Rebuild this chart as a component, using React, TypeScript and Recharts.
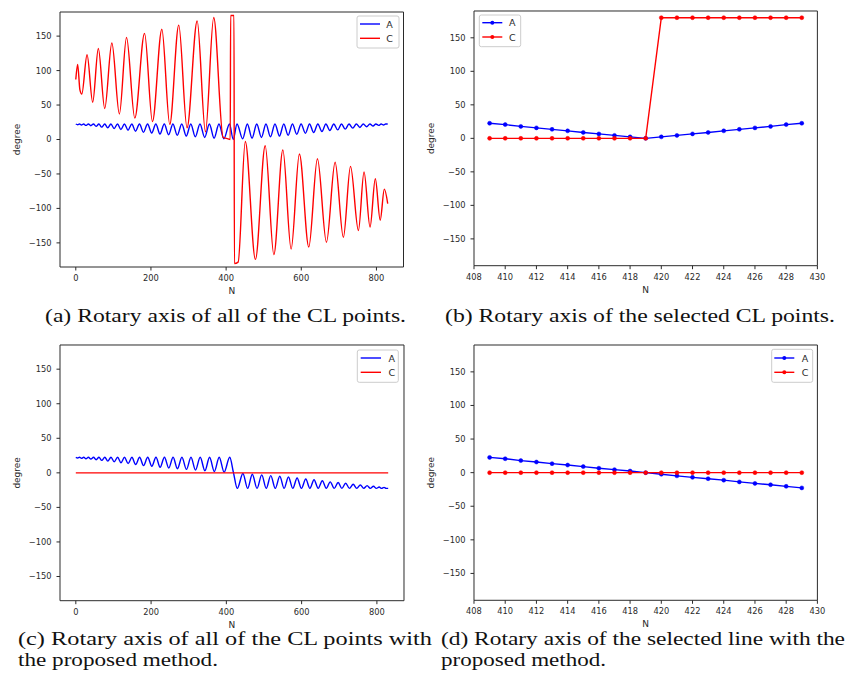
import { LineChart, Line, XAxis, YAxis, ReferenceArea } from 'recharts';

type Pt = [number, number];

// (a) rotary axes of all CL points (N, degree)
const allA: Pt[] = [
  [0, 22.5], [5, 21.5], [10, 22.5], [15, 21], [21, 22.5], [27, 20.5], [33.5, 22.5], [40, 20],
  [47, 22.5], [54, 19], [61.5, 22.5], [69, 18], [77, 22.5], [85, 17], [93.5, 22.5], [102, 16],
  [111, 22.5], [120, 14.5], [129.5, 22.5], [139, 13.5], [149, 22.5], [159, 12], [169.5, 22.5],
  [180, 10.5], [191, 22.5], [202, 9.5], [213, 22.5], [224, 8], [235.5, 22.5], [247, 7],
  [258.5, 22.5], [270, 6], [282, 22.5], [294, 5], [306, 22.5], [318, 4], [330.5, 22.5], [343, 3],
  [355.5, 22.5], [368, 2], [381, 22.5], [394, 1], [409, 22.5], [419, 0], [429, 22.5], [444, 1],
  [456.5, 22.5], [469, 2], [481.5, 22.5], [494, 3], [506, 22.5], [518, 4], [530, 22.5], [542, 5],
  [553.5, 22.5], [565, 6], [576.5, 22.5], [588, 7.5], [599.5, 22.5], [611, 9], [622, 22.5],
  [633, 10], [644, 22.5], [655, 11.5], [665.5, 22.5], [676, 13], [686.5, 22.5], [697, 14],
  [707, 22.5], [717, 15], [727, 22.5], [737, 16.5], [746.5, 22.5], [756, 17.5], [765, 22.5],
  [774, 18.5], [782.5, 22.5], [791, 19.5], [798.5, 22.5], [806, 20.5], [812.5, 22.5], [819, 21],
  [824.5, 22.5], [830, 22.5],
];

const allC: Pt[] = [
  [0, 87], [5, 109], [11, 72], [16, 66], [30, 123], [45, 54], [60, 132], [77, 45], [96, 140],
  [116, 37], [135, 148], [157, 31], [183, 154], [204, 26], [229, 160], [250, 22], [274, 166],
  [296, 17], [323, 172], [345, 11], [367, 177], [392, 3], [405, 1], [411, 0], [412, 180],
  [421, 180], [422, -180], [432, -178], [451, -3], [478, -174], [504, -9], [527, -167],
  [551, -15], [573, -159], [595, -21], [620, -156], [643, -28], [667, -149], [690, -33],
  [712, -142], [731, -39], [752, -132], [767, -47], [783, -127], [797, -57], [810, -117],
  [821, -72], [830, -93],
];

// (c) all CL points with the proposed method
const propA: Pt[] = [
  [0, 22.5], [5, 21.5], [10, 22.5], [15, 21], [21, 22.5], [27, 20.5], [33.5, 22.5], [40, 20],
  [47, 22.5], [54, 19], [61.5, 22.5], [69, 18], [77, 22.5], [85, 17], [93.5, 22.5], [102, 16],
  [111, 22.5], [120, 14.5], [129.5, 22.5], [139, 13.5], [149, 22.5], [159, 12], [169.5, 22.5],
  [180, 10.5], [191, 22.5], [202, 9.5], [213, 22.5], [224, 8], [235.5, 22.5], [247, 7],
  [258.5, 22.5], [270, 6], [282, 22.5], [294, 5], [306, 22.5], [318, 4], [330.5, 22.5], [343, 3],
  [355.5, 22.5], [368, 2], [381, 22.5], [394, 1], [409, 22.5], [419, 0], [429, -22.5], [444, -1],
  [456.5, -22.5], [469, -2], [481.5, -22.5], [494, -3], [506, -22.5], [518, -4], [530, -22.5],
  [542, -5], [553.5, -22.5], [565, -6], [576.5, -22.5], [588, -7.5], [599.5, -22.5], [611, -9],
  [622, -22.5], [633, -10], [644, -22.5], [655, -11.5], [665.5, -22.5], [676, -13],
  [686.5, -22.5], [697, -14], [707, -22.5], [717, -15], [727, -22.5], [737, -16.5],
  [746.5, -22.5], [756, -17.5], [765, -22.5], [774, -18.5], [782.5, -22.5], [791, -19.5],
  [798.5, -22.5], [806, -20.5], [812.5, -22.5], [819, -21], [824.5, -22.5], [830, -22.5],
];
const propC: Pt[] = [[0, 0], [830, 0]];

// (b), (d) selected CL points
const selN = [409, 410, 411, 412, 413, 414, 415, 416, 417, 418, 419, 420, 421, 422, 423, 424, 425, 426, 427, 428, 429];
const selA = [22.5, 20.5, 17.8, 15.6, 13.4, 11.2, 8.8, 6.6, 4.4, 2.2, 0, 2.2, 4.4, 6.6, 8.8, 11.2, 13.4, 15.6, 17.8, 20.5, 22.5];
const selC = [0, 0, 0, 0, 0, 0, 0, 0, 0, 0, 0, 180, 180, 180, 180, 180, 180, 180, 180, 180, 180];
const selPropA = [22.7, 20.7, 17.9, 15.8, 13.4, 11.3, 9, 6.6, 4.5, 2.4, 0, -2.4, -4.8, -7, -9, -11.2, -13.8, -16, -18, -20.4, -22.7];
const selPropC = [0, 0, 0, 0, 0, 0, 0, 0, 0, 0, 0, 0, 0, 0, 0, 0, 0, 0, 0, 0, 0];

const degTicks = [-150, -100, -50, 0, 50, 100, 150];
const allTicks = [0, 200, 400, 600, 800];
const selTicks = [408, 410, 412, 414, 416, 418, 420, 422, 424, 426, 428, 430];

const BLUE = '#0000ff';
const RED = '#ff0000';
const INK = '#2a2a2a';
const SANS = '"DejaVu Sans", sans-serif';
const SERIF = '"Liberation Serif", serif';

type Row = { n: number; deg: number };
const fromPairs = (p: Pt[]): Row[] => p.map(([n, deg]) => ({ n, deg }));
const fromCols = (ys: number[]): Row[] => ys.map((deg, i) => ({ n: selN[i], deg }));

const fmt = (v: number) => String(v).replace('-', '\u2212');

type Series = { name: string; color: string; rows: Row[] };

function Panel(props: {
  left: number;
  top: number;
  plotH: number;
  plotW: number;
  xDomain: [number, number];
  xTicks: number[];
  yDomain: [number, number];
  series: Series[];
  dots?: boolean;
}) {
  const { left, top, plotH, plotW, xDomain, xTicks, yDomain, series, dots } = props;
  const yLabel = (p: any) => {
    const vb = p.viewBox;
    const cx = vb.x + 17;
    const cy = vb.y + vb.height / 2;
    return (
      <text x={cx} y={cy} transform={`rotate(-90 ${cx} ${cy})`} textAnchor="middle" dominantBaseline="central" fontSize={9} fill={INK} fontFamily={SANS}>
        degree
      </text>
    );
  };
  const xLabel = (p: any) => {
    const vb = p.viewBox;
    return (
      <text x={vb.x + vb.width / 2} y={vb.y + 24} textAnchor="middle" dominantBaseline="central" fontSize={9} fill={INK} fontFamily={SANS}>
        N
      </text>
    );
  };
  const tick = { fontSize: 8.3, fill: INK, fontFamily: SANS };
  return (
    <div style={{ position: 'absolute', left, top }}>
      <LineChart width={60 + plotW + 21} height={10 + plotH + 30} margin={{ top: 10, right: 21, bottom: 0, left: 0 }}>
        <XAxis
          type="number"
          dataKey="n"
          domain={xDomain}
          ticks={xTicks}
          interval={0}
          allowDataOverflow
          height={30}
          axisLine={false}
          tickLine={{ stroke: INK }}
          tickSize={3.5}
          tickMargin={4.5}
          tick={tick}
          label={xLabel}
        />
        <YAxis
          type="number"
          domain={yDomain}
          ticks={degTicks}
          interval={0}
          allowDataOverflow
          width={60}
          axisLine={false}
          tickLine={{ stroke: INK }}
          tickSize={3.5}
          tickMargin={5}
          tick={tick}
          tickFormatter={fmt}
          label={yLabel}
        />
        <ReferenceArea x1={xDomain[0]} x2={xDomain[1]} y1={yDomain[0]} y2={yDomain[1]} fill="none" stroke={INK} strokeWidth={1} />
        {series.map((s) => (
          <Line
            key={s.name}
            data={s.rows}
            dataKey="deg"
            name={s.name}
            type={dots ? 'linear' : 'monotone'}
            stroke={s.color}
            strokeWidth={1.4}
            dot={dots ? { r: 2, fill: s.color, stroke: s.color, strokeWidth: 0.5 } : false}
            activeDot={false}
            isAnimationActive={false}
          />
        ))}
      </LineChart>
    </div>
  );
}

function LegendBox({ x, y, w, h, rows, lineX1, lineX2, textX, dots }: {
  x: number; y: number; w: number; h: number; rows: number[]; lineX1: number; lineX2: number; textX: number; dots?: boolean;
}) {
  const items = [
    { label: 'A', color: BLUE },
    { label: 'C', color: RED },
  ];
  return (
    <g>
      <rect x={x} y={y} width={w} height={h} rx={2} fill="#ffffff" fillOpacity={0.85} stroke="#cccccc" />
      {items.map((it, i) => (
        <g key={it.label}>
          <line x1={lineX1} x2={lineX2} y1={rows[i]} y2={rows[i]} stroke={it.color} strokeWidth={1.4} />
          {dots && <circle cx={(lineX1 + lineX2) / 2} cy={rows[i]} r={2} fill={it.color} />}
          <text x={textX} y={rows[i]} textAnchor="middle" dominantBaseline="central" fontSize={9.5} fill={INK} fontFamily={SANS}>
            {it.label}
          </text>
        </g>
      ))}
    </g>
  );
}

function Caption({ x, y, len, children }: { x: number; y: number; len: number; children: string }) {
  return (
    <text x={x} y={y} textLength={len} lengthAdjust="spacingAndGlyphs" fontSize={18.5} fill="#111" fontFamily={SERIF}>
      {children}
    </text>
  );
}

export default function App() {
  return (
    <div style={{ position: 'absolute', left: 0, top: 0, width: 850, height: 681, background: '#fff', overflow: 'hidden' }}>
      <Panel
        left={0}
        top={2}
        plotW={343.5}
        plotH={255}
        xDomain={[-42, 872]}
        xTicks={allTicks}
        yDomain={[-185, 185]}
        series={[
          { name: 'A', color: BLUE, rows: fromPairs(allA) },
          { name: 'C', color: RED, rows: fromPairs(allC) },
        ]}
      />
      <Panel
        left={414.3}
        top={1}
        plotW={343.4}
        plotH={254.7}
        xDomain={[408, 430]}
        xTicks={selTicks}
        yDomain={[-190, 190]}
        dots
        series={[
          { name: 'A', color: BLUE, rows: fromCols(selA) },
          { name: 'C', color: RED, rows: fromCols(selC) },
        ]}
      />
      <Panel
        left={0}
        top={335}
        plotW={344}
        plotH={255.7}
        xDomain={[-42, 872]}
        xTicks={allTicks}
        yDomain={[-185, 185]}
        series={[
          { name: 'A', color: BLUE, rows: fromPairs(propA) },
          { name: 'C', color: RED, rows: fromPairs(propC) },
        ]}
      />
      <Panel
        left={414.3}
        top={335}
        plotW={343.4}
        plotH={255.3}
        xDomain={[408, 430]}
        xTicks={selTicks}
        yDomain={[-190, 190]}
        dots
        series={[
          { name: 'A', color: BLUE, rows: fromCols(selPropA) },
          { name: 'C', color: RED, rows: fromCols(selPropC) },
        ]}
      />
      <svg width={850} height={681} style={{ position: 'absolute', left: 0, top: 0, pointerEvents: 'none' }}>
        <LegendBox x={357} y={16} w={42} h={32} rows={[24, 38.3]} lineX1={360} lineX2={380} textX={389.5} />
        <LegendBox x={479.3} y={15} w={41.4} h={31.7} rows={[22.7, 37]} lineX1={482.3} lineX2={502.3} textX={512.3} dots />
        <LegendBox x={357.3} y={350} w={41} h={32.3} rows={[358, 372.3]} lineX1={360.7} lineX2={381} textX={391.7} />
        <LegendBox x={771.7} y={349.3} w={41} h={33} rows={[358, 372.3]} lineX1={774.3} lineX2={794.3} textX={805} dots />

        <Caption x={45} y={322} len={361}>(a) Rotary axis of all of the CL points.</Caption>
        <Caption x={445} y={322} len={390}>(b) Rotary axis of the selected CL points.</Caption>
        <Caption x={18} y={645} len={414}>(c) Rotary axis of all of the CL points with</Caption>
        <Caption x={18} y={666} len={200}>the proposed method.</Caption>
        <Caption x={441} y={645} len={404}>(d) Rotary axis of the selected line with the</Caption>
        <Caption x={441} y={666} len={165}>proposed method.</Caption>
      </svg>
    </div>
  );
}
